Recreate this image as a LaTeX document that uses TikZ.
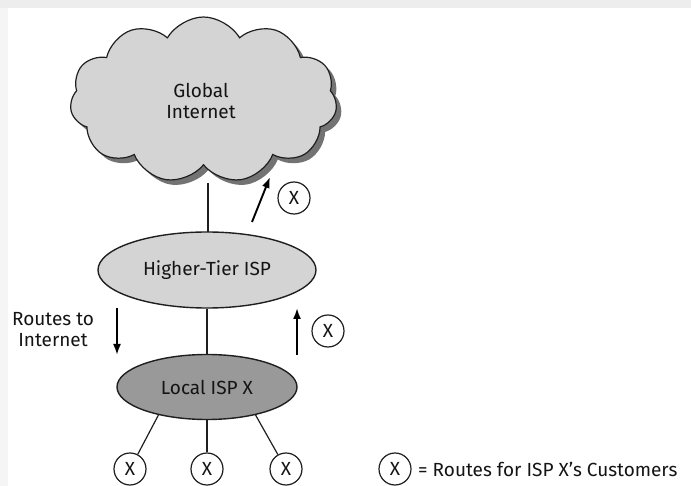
\documentclass[tikz,border=0pt]{standalone}
\usepackage{fontspec}
\setmainfont{Fira Sans}
\usetikzlibrary{shapes.symbols,shapes.geometric,arrows.meta}
\begin{document}
\begin{tikzpicture}[x=1pt,y=-1pt,
  every node/.style={font=\fontsize{19}{21}\selectfont, text=black!92},
  cloudshape/.style={cloud, cloud puffs=11, cloud puff arc=120, aspect=1.6,
    minimum width=267pt, minimum height=166pt, inner sep=0pt},
  isp/.style={ellipse, draw=black!88, line width=1.4pt, inner sep=0pt},
  route/.style={circle, draw=black!88, line width=1.2pt, minimum size=32pt, inner sep=0pt},
  link/.style={line width=1.5pt, draw=black!88},
  flow/.style={line width=1.9pt, draw=black, -{Latex[length=11pt,width=8pt]}}
]
\useasboundingbox (0,0) rectangle (691,486);
\fill[black!7] (0,0) rectangle (691,8);
\fill[black!4] (0,8) rectangle (8,486);

% cloud with drop shadow
\node[cloudshape, fill=black!55] at (208.5,105) {};
\node[cloudshape, draw=black!88, line width=1.2pt, fill=black!17] (net) at (203.5,100) {};
\node[align=center] (nettext) at (201,101) {Global\\Internet};

% providers
\node[isp, fill=black!17, minimum width=218pt, minimum height=76pt] (hisp) at (207,270) {Higher-Tier ISP};
\node[isp, fill=black!40, minimum width=180pt, minimum height=65pt] (lisp) at (207,387) {Local ISP X};

\coordinate (cb) at (208,183);
\draw[link] (cb) -- (208,232);
\draw[link] (hisp.south) -- (lisp.north);

% route advertisements
\coordinate (a1s) at (252,222);
\coordinate (a1e) at (270,177);
\draw[flow] (a1s) -- (a1e);
\node[route] (x1) at (294,198) {X};

\coordinate (a2s) at (117,308);
\coordinate (a2e) at (117,355);
\draw[flow] (a2s) -- (a2e);
\node[align=center] (rti) at (53,330) {Routes to\\Internet};

\coordinate (a3s) at (297,355);
\coordinate (a3e) at (297,308);
\draw[flow] (a3s) -- (a3e);
\node[route] (x2) at (328,331) {X};

% customers
\node[route] (c1) at (130,469) {X};
\node[route] (c2) at (207,469) {X};
\node[route] (c3) at (286,469) {X};
\draw[link, line width=1.2pt] (lisp.-150) -- (c1);
\draw[link, line width=1.2pt] (lisp.south) -- (c2);
\draw[link, line width=1.2pt] (lisp.-30) -- (c3);

% legend
\node[route] (lx) at (395,469) {X};
\node[anchor=west, inner sep=0pt] (lt) at (418,469) {= Routes for ISP X's Customers};
\end{tikzpicture}
\end{document}
